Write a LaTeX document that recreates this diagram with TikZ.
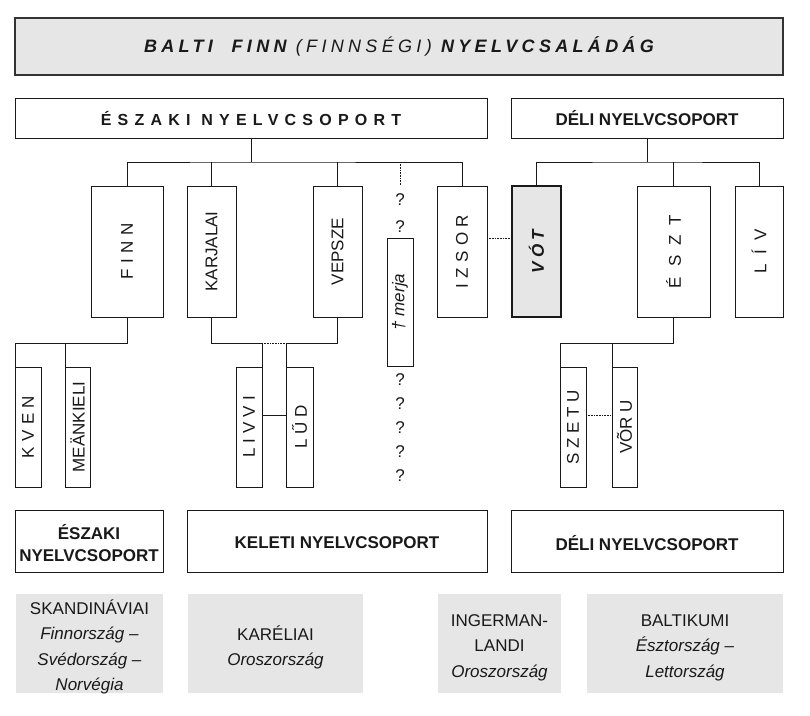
\documentclass[tikz,border=0pt]{standalone}
\usepackage{fontspec}
\usepackage{graphicx}
\setmainfont{Liberation Sans}
\definecolor{lgray}{RGB}{230,230,230}
\definecolor{ink}{RGB}{25,25,25}
\newcommand\vlab[2]{\rotatebox{90}{\addfontfeature{LetterSpace=#1}#2}}
\begin{document}
\begin{tikzpicture}[x=1pt,y=-1pt,
  every node/.style={font=\fontsize{17}{20}\selectfont, inner sep=0pt, outer sep=0pt, text=ink},
  box/.style={draw=ink, line width=1pt, fill=white},
  graybox/.style={fill=lgray, draw=none},
  graytext/.style={align=center, font=\fontsize{17}{25.5}\selectfont},
  lnk/.style={draw=ink, line width=1pt},
  dots/.style={draw=ink, line width=1pt, dash pattern=on 0.8pt off 0.8pt},
  qm/.style={font=\fontsize{17}{20}\selectfont}]
\useasboundingbox (0,0) rectangle (810,715);

% title
\node[box, fill=lgray, line width=1.6pt, draw=black!80, minimum width=768pt, minimum height=57pt]
  (title) at (399,46.5) {\fontsize{18}{20}\selectfont\bfseries\itshape\addfontfeature{LetterSpace=24}BALTI\ \ FINN {\mdseries(FINNSÉGI)} NYELVCSALÁDÁG};

% group boxes top
\node[box, minimum width=472pt, minimum height=40pt] (eszak) at (251,118)
  {\bfseries\addfontfeature{LetterSpace=39}\fontsize{16}{20}\selectfont ÉSZAKI NYELVCSOPORT};
\node[box, minimum width=272pt, minimum height=40pt] (deli) at (647,118)
  {\bfseries DÉLI NYELVCSOPORT};

% language boxes, upper row
\node[box, minimum width=72pt, minimum height=131pt] (finn) at (127,251.5) {\vlab{32}{FINN}};
\node[box, minimum width=49pt, minimum height=131pt] (karj) at (211.5,251.5) {\vlab{0}{KARJALAI}};
\node[box, minimum width=49pt, minimum height=131pt] (veps) at (337.5,251.5) {\vlab{0}{VEPSZE}};
\node[box, minimum width=50pt, minimum height=131pt] (izsor) at (462,251.5) {\vlab{31}{IZSOR}};
\node[box, fill=lgray, line width=2pt, minimum width=49pt, minimum height=131pt] (vot) at (536.5,251.5)
  {\rotatebox{90}{\bfseries\itshape\addfontfeature{LetterSpace=24}VÓT}};
\node[box, minimum width=73pt, minimum height=131pt] (eszt) at (673.5,251.5) {\vlab{58}{ÉSZT}};
\node[box, minimum width=48pt, minimum height=131pt] (liv) at (759,251.5) {\vlab{54}{LÍV}};
\node[box, minimum width=26pt, minimum height=128pt] (merja) at (400,302)
  {\rotatebox{90}{\itshape † merja}};

% lower row
\node[box, minimum width=26pt, minimum height=120pt] (kven) at (28,427) {\vlab{31}{KVEN}};
\node[box, minimum width=25pt, minimum height=120pt] (mean) at (77.5,427) {\vlab{0}{MEÄNKIELI}};
\node[box, minimum width=26pt, minimum height=120pt] (livvi) at (249,427) {\vlab{30}{LIVVI}};
\node[box, minimum width=27pt, minimum height=120pt] (lud) at (299.5,427) {\vlab{26}{LŰD}};
\node[box, minimum width=26pt, minimum height=120pt] (szetu) at (573,427) {\vlab{27}{SZETU}};
\node[box, minimum width=25pt, minimum height=120pt] (voru) at (624.5,427) {\vlab{0}{VÕR U}};

% question marks
\node[qm] (q1) at (400,200) {?};
\node[qm] (q2) at (400,227) {?};
\node[qm] (q3) at (400,380) {?};
\node[qm] (q4) at (400,404) {?};
\node[qm] (q5) at (400,428) {?};
\node[qm] (q6) at (400,452) {?};
\node[qm] (q7) at (400,476) {?};

% group boxes bottom
\node[box, minimum width=148pt, minimum height=62pt] (eszak2) at (89,541) {};
\node[align=center, font=\fontsize{17}{22}\selectfont\bfseries] (eszak2t) at (89,543) {ÉSZAKI\\NYELVCSOPORT};
\node[box, minimum width=300pt, minimum height=62pt] (keleti) at (337,541) {};
\node (keletit) at (337,543) {\bfseries KELETI NYELVCSOPORT};
\node[box, minimum width=272pt, minimum height=62pt] (deli2) at (647,541) {};
\node (deli2t) at (647,543) {\bfseries DÉLI NYELVCSOPORT};

% regions
\node[graybox, minimum width=147pt, minimum height=99pt] (skand) at (89.5,643.5) {};
\node[graytext] (skandt) at (89.5,647)
  {SKANDINÁVIAI\\\textit{Finnország –}\\\textit{Svédország –}\\\textit{Norvégia}};
\node[graybox, minimum width=175pt, minimum height=99pt] (karel) at (275.5,643.5) {};
\node[graytext] (karelt) at (275.5,647.5) {KARÉLIAI\\\textit{Oroszország}};
\node[graybox, minimum width=123pt, minimum height=99pt] (inger) at (499.5,643.5) {};
\node[graytext] (ingert) at (499.5,647.5) {INGERMAN-\\LANDI\\\textit{Oroszország}};
\node[graybox, minimum width=196pt, minimum height=99pt] (balt) at (685,643.5) {};
\node[graytext] (baltt) at (685,647.5) {BALTIKUMI\\\textit{Észtország –}\\\textit{Lettország}};

% connectors, north group
\coordinate (jN) at (251,162);
\coordinate (mq) at (400,185);
\draw[lnk] (eszak.south) -- (jN);
\draw[lnk] (finn.north) |- (jN) -| (izsor.north);
\draw[lnk] (karj.north) -- (karj.north |- jN);
\draw[lnk] (veps.north) -- (veps.north |- jN);
\draw[dots] (mq |- jN) -- (mq);

% connectors, south group
\coordinate (jS) at (647,162);
\draw[lnk] (deli.south) -- (jS);
\draw[lnk] (vot.north) |- (jS) -| (liv.north);
\draw[lnk] (eszt.north) -- (eszt.north |- jS);
\draw[dots] ([yshift=13.5pt]izsor.east) -- ([yshift=13.5pt]vot.west);

% lower connectors
\coordinate (jF) at (127,343);
\draw[lnk] (finn.south) -- (jF) -| (kven.north west);
\draw[lnk] (mean.north west) -- (mean.north west |- jF);
\coordinate (jK) at (211.5,343);
\coordinate (jV) at (337.5,343);
\draw[lnk] (karj.south) -- (jK) -| (livvi.north east);
\draw[lnk] (veps.south) -- (jV) -| (lud.north west);
\draw[dots] (livvi.north east |- jK) -- (lud.north west |- jV);
\draw[lnk] ([yshift=12pt]livvi.east) -- ([yshift=12pt]lud.west);
\coordinate (jE) at (673.5,343);
\draw[lnk] (eszt.south) -- (jE) -| (szetu.north west);
\draw[lnk] (voru.north west) -- (voru.north west |- jE);
\draw[dots] ([yshift=12pt]szetu.east) -- ([yshift=12pt]voru.west);
\end{tikzpicture}
\end{document}
